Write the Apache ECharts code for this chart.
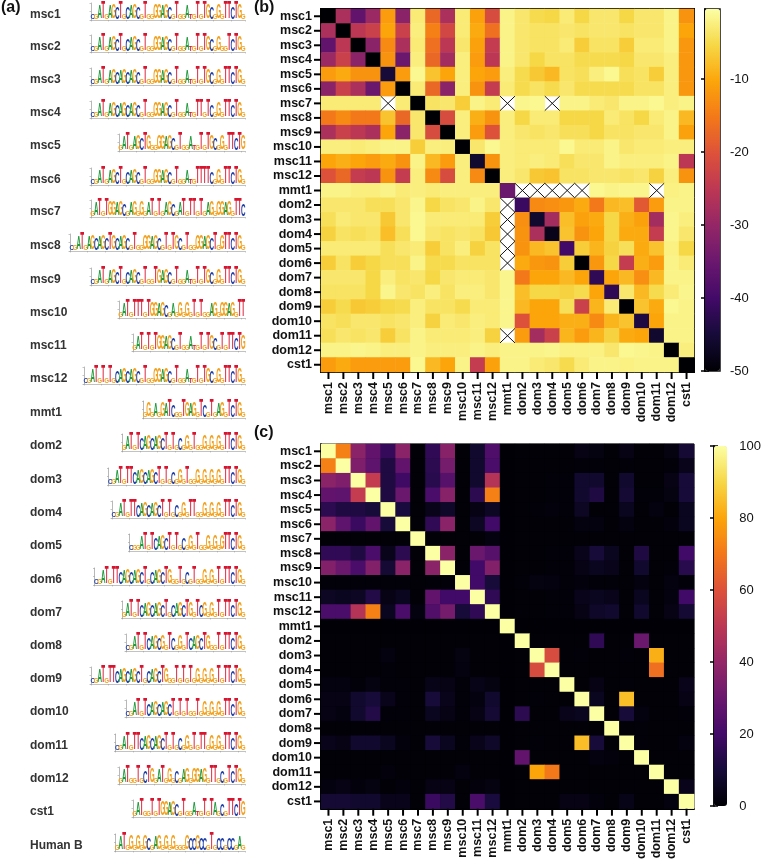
<!DOCTYPE html>
<html><head><meta charset="utf-8">
<style>html,body{margin:0;padding:0;background:#fff}#c{width:764px;height:862px}</style>
<script src="https://cdn.jsdelivr.net/npm/echarts@6/dist/echarts.min.js"></script>
</head><body><div id="c"></div>
<script>
const categories=['msc1','msc2','msc3','msc4','msc5','msc6','msc7','msc8','msc9','msc10','msc11','msc12','mmt1','dom2','dom3','dom4','dom5','dom6','dom7','dom8','dom9','dom10','dom11','dom12','cst1'];
const inferno=['#000004','#160b39','#420a68','#6a176e','#932667','#bc3754','#dd513a','#f37819','#fca50a','#f6d746','#fcffa4'];
const _=null;
const matrixB=[
[-50,-27,-36,-29,-11,-31,-2.5,-17,-27,-2.5,-10.5,-21,-1.5,-3,-4.5,-5,-2.5,-5,-3,-3,-5,-3,-3,-1.5,-12],
[-27,-50,-25,-23,-10,-23,-2,-14,-22,-2.5,-9.5,-16,-1.5,-3,-3.5,-3.5,-3,-3.5,-3,-3,-3.5,-3,-3,-1.5,-10],
[-36,-25,-50,-31,-13,-27,-2.5,-16,-25,-3,-10.5,-24,-1.5,-3,-3.5,-3.5,-2.5,-6,-3.5,-3.5,-6,-2.5,-2.5,-1.5,-11.5],
[-29,-23,-31,-50,-12,-35,-2,-17,-28,-2,-11,-25,-1.5,-3,-5,-3.5,-3.5,-4.5,-4.5,-4.5,-5,-3,-3,-2,-11.5],
[-11,-9.5,-12,-12,-45,-11,-1,-7,-10,-2,-10,-11,-2,-4.5,-6.5,-8,-3.5,-4,-2,-1,-4,-3.5,-6,-2,-11.5],
[-31,-23,-27,-35,-11,-50,-2.5,-17,-31,-2,-12,-24,-2.5,-4.5,-3.5,-4.5,-3,-4.5,-4.5,-4.5,-4.5,-3.5,-3.5,-2,-11.5],
[-2.5,-2.5,-2.5,-2.5,_,-2.5,-50,-3.5,-3,-6,-1.5,-2.5,_,-1.2,-1,_,-1.5,-1.5,-2.5,-3,-1.5,-1.5,-1,-2,-1.5],
[-15,-13,-15,-15,-7,-17,-3,-50,-21,-2,-9,-12,-2,-5,-2.5,-2.5,-5,-5,-5,-2.5,-3.5,-5,-2.5,-1.5,-8],
[-27,-23,-25,-27,-10,-31,-3,-21,-50,-2,-11,-20,-2,-3,-3.5,-3,-4,-4,-5,-3.5,-3.5,-3,-3,-1.5,-10.5],
[-2,-2,-2.5,-2,-1.5,-1.5,-6,-2,-2,-50,-3,-1,-2,-2.5,-2.5,-2.5,-1,-2.5,-2.5,-1.5,-3,-2.5,-2.5,-2,-2],
[-10,-9,-10,-11,-9.5,-12,-1.5,-8,-11,-2,-46,-12,-2,-2.5,-2,-2.5,-4,-3,-3,-1.5,-2,-2,-2,-1.5,-25],
[-20,-17,-24,-25,-12,-24,-2,-13,-21,-2,-13,-50,-2,-3,-6.5,-7,-3.5,-3.5,-3,-3,-3.5,-3,-5.5,-2,-12],
[-1.5,-1.5,-2,-2,-1.5,-2.5,-2,-2.5,-2,-2,-2,-2,-35,_,_,_,_,_,-1,-1.5,-1.2,-1.2,_,-1.8,-1.5],
[-3,-3,-3,-4,-4,-3,-1.2,-5,-3.5,-3,-1.5,-3,_,-41,-13,-12.5,-11.5,-9.5,-15,-8,-7.5,-19,-11,-1.5,-1.5],
[-4,-2.5,-3,-3,-6.5,-3,-1,-2.5,-2.5,-2.5,-2.5,-6,_,-12.5,-46,-28,-7.5,-10.5,-9.5,-5,-9,-10.5,-28,-1.2,-2],
[-5.5,-3.5,-4,-3.5,-7.5,-4,-1,-3,-3.5,-3,-3.5,-6.5,_,-12,-27,-48,-7,-12,-10,-5,-9.5,-9.5,-24,-1.2,-3],
[-2.5,-2.5,-2.5,-2.5,-4,-3,-2.5,-6,-3.5,-2,-5.5,-3.5,_,-12,-8,-7,-40,-6,-8.5,-5.5,-4,-9.5,-7,-1.8,-5],
[-6,-3.5,-6,-5,-4,-4,-1.5,-4.5,-4.5,-3.5,-3.5,-3.5,_,-9.5,-11.5,-12,-6,-50,-11.5,-5,-24,-9,-11,-1.5,-2.5],
[-3,-3,-3,-5,-2,-3.5,-3,-5,-3,-2.5,-2.5,-3,-1.2,-15,-10,-10,-8,-10,-42,-10,-8,-12.5,-8,-1.5,-1.5],
[-3.5,-3.5,-3.5,-5,-1.2,-3,-3.5,-2,-3.5,-2,-2,-3,-1.2,-7.5,-5,-5,-5.5,-4.5,-10,-42,-3,-8,-4.5,-2.5,-1.2],
[-6,-4.5,-6.5,-6,-5,-4.5,-2,-3.5,-3.5,-4.5,-2.5,-2.5,-1.2,-8,-10,-10,-4,-23,-8.5,-2.5,-50,-7,-9.5,-1,-1.5],
[-3.5,-4,-3,-3,-3.5,-3,-2,-5.5,-2.5,-3,-2,-2.5,-1.2,-20,-10,-10,-9,-9,-13,-8.5,-7,-44,-10,-1.5,-1.5],
[-4,-3,-3.5,-3,-6,-3.5,-1.5,-2.5,-2.5,-2.5,-2,-5.5,_,-11,-28,-23,-8.5,-11,-8.5,-5.5,-9.5,-10,-46,-1.5,-1.5],
[-1.5,-1.5,-1.2,-1.5,-2,-2,-1.5,-2,-2,-2,-1.5,-2,-1.5,-1.5,-1.5,-1.2,-1.8,-1.8,-1.8,-3,-1,-1.2,-1.5,-50,-2],
[-11,-9.5,-11,-11,-11,-11,-1,-8,-10,-1.5,-24,-10.5,-1.5,-1.5,-2.5,-3,-4.5,-2.5,-1.5,-1.5,-1.8,-1.5,-1.5,-1.5,-50]
];
const matrixC=[
[100,72,38,28,17,38,.5,16,37,.5,8,23,.3,.5,.5,.5,.5,3,2.5,.5,3,.5,.5,2.5,9],
[72,100,35,27,12,28,.5,15,33,.5,8,22,.3,.5,.5,.5,.5,1,1,.5,1,.5,.5,1,4],
[38,35,100,52,12,19,.5,14,25,.8,8,48,.3,.5,.5,1,1,8,8,.5,8,.5,.5,3,10],
[28,27,52,100,12,30,.5,22,37,.5,15,72,.3,.5,.5,1,1,8,12,.5,9,1,1,2.5,10],
[15,12,12,10,100,11,.5,4,7,.6,3,6,.3,.5,1,1.5,1,6,.5,.5,5,.5,2,.5,5],
[38,27,18,28,10,100,.5,16,38,.5,6,20,.3,.5,.5,.5,.5,2,2,.5,2,.5,.5,1.5,5],
[.8,.8,.8,.8,.8,.8,100,.8,.8,.8,.8,2,.3,.5,.5,.5,.5,.5,.5,.5,.5,.5,.5,.5,.8],
[16,16,12,22,4,15,.5,100,38,.5,30,25,.3,.5,.5,1,1,4,10,5,.5,12,.5,.5,20],
[36,30,22,36,9,38,.5,38,100,.5,20,36,.3,.5,.5,1,1,3,5,4,.5,8,.5,1,14],
[1,1,1,1,1,1,.5,1,1,100,20,10,.3,1,2.5,2,1,1.5,1,1,.5,2,.5,2,1],
[6,5,6,13,3,5,.5,28,20,20,100,16,.3,.5,.5,1,1,4,5,4,.5,5,.5,2,20],
[22,22,48,72,5,22,2,24,33,10,16,100,.3,.5,.5,1,1,3,7,8,.5,8,.5,3,9],
[.3,.3,.3,.3,.3,.3,.3,.3,.3,.3,.3,.3,100,.3,.3,.3,.3,.3,.3,.3,.3,.3,.3,.3,.3],
[.5,.5,.5,.5,.5,.5,.5,.5,.5,.5,.5,.5,.3,100,.5,.5,.5,.5,16,.5,.5,30,.5,.5,.5],
[.5,.5,.5,.5,2,.5,.5,.5,.5,2.5,.5,.5,.3,.5,100,58,.5,1,.5,.5,1,.5,82,.5,.5],
[.5,.5,.5,.5,1,.5,.5,.5,.5,2,.5,.5,.3,.5,58,100,.5,.5,.5,.5,.5,.5,68,.5,.5],
[2,2,1,2.5,1,1,.5,3.5,3,1,3.5,2.5,.3,.5,.5,.5,100,.5,3,.5,1,.5,.5,.5,4],
[3,3,8,10,4,1,.5,10,4,1,2,8,.3,.5,1,.5,.5,100,5,.5,85,.5,.5,.5,3],
[3,2,8,13,1,1,.5,5,3,1,3,9,.3,15,.5,.5,4,5,100,.5,10,2,.5,.5,1],
[.7,.7,.7,.7,.7,.7,.5,.7,.7,.7,.7,.7,.3,.5,.5,.5,.5,.5,.5,100,.5,1,.5,.5,.5],
[4,3,8,8,5,1.5,.7,10,5,1,4,7,.3,.5,1,.5,.5,85,10,.5,100,1,.5,.5,2],
[.5,.5,.5,.5,.5,.5,.5,.5,.5,.5,.5,.5,.3,28,.5,.5,.5,.5,2,1.5,.5,100,.5,.5,.5],
[.5,.5,.5,.5,1.5,.5,.5,.5,.5,2,.5,.5,.3,.5,80,70,.5,.5,.5,.5,.5,.5,100,.5,.5],
[2,3,1.5,2.5,.5,1.5,.5,3,3,.5,1.5,2.5,.3,.5,.5,.5,.5,.5,.5,.5,.5,.5,.5,100,4],
[9,9,8,8,4,4,.5,18,13,.5,22,11,.3,.5,.5,.5,3,3,1.5,.5,3.5,.5,.5,2,100]
];
const logoNames=['msc1','msc2','msc3','msc4','msc5','msc6','msc7','msc8','msc9','msc10','msc11','msc12','mmt1','dom2','dom3','dom4','dom5','dom6','dom7','dom8','dom9','dom10','dom11','dom12','cst1','Human B'];
const logoSequences=[
'cgATgAGCTgCAGCgTggGGAGCgTggAtgTgTGCgGgTTCTGg',
'cgATgAGCTgCAGCgTggGGAGCgTggAtgTgTGCgGggTCTGg',
'cgATgAGCAGCAGCgTggGGAGCgTggAtgTgTGCgGgTTCTGg',
'cgATgAGCAGCAGCgTggGGAGCgTggAtgTTgTCgGgTTCTGg',
'gATgAGCTGggGGAGCgTggAtgTgTGCgGgTTCTG',
'cgATgAGCTgCAGCgTggGGAGCgTggAtgTTTTCgGgTTCTGg',
'gATgTGGAGCgAGgGgATgTgAGCgATgTTgTgAGgGGAGgTTC',
'cgATgAGCAGCTGCAGCgTggGGAGCgTgTGCgTggGGAGCTgGTTCTGg',
'cgATgAGCTgCAGCgTggTGAGCgTggAtgTgTGCgGgTTCTGg',
'gATgTTTgTGGAGCgAgGgGgTgTggAGgGGAGgTT',
'gATgTgTGGAGCgTggAtgTgTGCgTgTTCTG',
'cgATgTgTgCAGCAGCgTggGGAGCgTggAtgTgTGCgGgTTCTGg',
'gGgAgGATCggTGAGgTCgTgAGgTCTGg',
'gATgTCAGCAGCTgTgCgGgTggGgGgGgTTCTGg',
'cgATgTTCAGCAGCTgTgCgGgTggGgGgGgGgTTCTGg',
'cgATgTTCAGCAGCTgTgCgGgTTggGgGgGgTTCTGg',
'cggATgTCAGCTgTgCgGgTggGgGgGTTCTGg',
'cgATgTTCAGCAGCTgCAGCTGggTgCgTggGgGgTgTTCTGg',
'gATgTCAGCAGCTgCAGCTGgTCGgGgTgTTCTGg',
'cgATgTCAGCGgTCgGgTCAGCTGggTgTTCTGg',
'cgATgTTCAGCAGCTgCAGCTGggTgTgTgGgGgGgTgTTCTGg',
'cgATgTCAGCAGCTgTgTggTgGgGgGgTTCTGg',
'cgATgTTCAGCAGCTgTgCgGgTgTTgGgGgTTCTGg',
'gATggTgCTGgATgGgCgAGgGGAGgTTgCgTCTGg',
'gATggTgTGGAGCgTggAtgTgTAgCgTTCTG',
'gATgGgGgGCgAGgGgGgggGCCGCCgTgCCgCCgAg'
];
const logoRowY=[16,48,81,114,147,181,213,247,281,314,347,380,414,447,481,514,547,581,614,647,680,713,747,780,813,847];
const letterHeights={T:1.95,G:1.7,A:1.5,C:1.4};
const smallHeight=.62;
const letterColors={T:'#d8152f',G:'#f2a11e',A:'#1d9a3a',C:'#1f3fa8'};
const FONT='"Liberation Sans",Arial,sans-serif';

const chart=echarts.init(document.getElementById('c'),null,{renderer:'canvas'});
const cells=m=>{const o=[];m.forEach((r,y)=>r.forEach((v,x)=>{if(v!==null)o.push([x,y,v]);}));return o;};
const missing=[];matrixB.forEach((r,y)=>r.forEach((v,x)=>{if(v===null)missing.push([x,y]);}));

const grids=[
 {left:321,top:9,width:373,height:363,show:true,borderColor:'#000',borderWidth:2,backgroundColor:'#fff'},
 {left:321,top:444,width:373,height:365,show:true,borderColor:'#000',borderWidth:1,backgroundColor:'#000004'},
 {left:705,top:9,width:15,height:362,show:true,borderColor:'#111',borderWidth:1.5,backgroundColor:'transparent'},
 {left:714,top:446,width:13,height:360,show:false}
];
const hx=i=>({type:'category',gridIndex:i,data:categories,position:'bottom',
  axisLine:{onZero:false,lineStyle:{color:'#000',width:2}},
  axisTick:{alignWithLabel:false,show:false},splitLine:{show:false},splitArea:{show:false},
  axisLabel:{interval:0,rotate:90,fontFamily:FONT,fontWeight:'bold',fontSize:12.5,color:'#111',margin:10}});
const hy=i=>({type:'category',gridIndex:i,data:categories,inverse:true,
  axisLine:{onZero:false,lineStyle:{color:'#000',width:2}},
  axisTick:{show:false},splitLine:{show:false},splitArea:{show:false},
  axisLabel:{interval:0,fontFamily:FONT,fontWeight:'bold',fontSize:12.5,color:'#111',margin:9}});
const cbTicks=(i,min,max,vals,pos,showLabel,margin)=>({type:'value',gridIndex:i,min,max,position:pos,
  axisLine:{show:true,lineStyle:{color:'#000',width:1.5}},
  axisTick:{show:true,length:4,lineStyle:{color:'#000',width:1.5},customValues:vals},
  splitLine:{show:false},
  axisLabel:{show:showLabel,customValues:vals,fontFamily:FONT,fontSize:13,color:'#111',margin}});
const hiddenX=i=>({type:'value',gridIndex:i,min:0,max:1,show:false});

const xAxes=[hx(0),hx(1),hiddenX(2),hiddenX(3)];
const yAxes=[hy(0),hy(1),
  cbTicks(2,-50,-0.4,[-50,-40,-30,-20,-10],'right',true,10),
  cbTicks(2,-50,-0.4,[-50,-40,-30,-20,-10],'left',false,0),
  cbTicks(3,0,100,[0,20,40,60,80,100],'right',true,13),
  cbTicks(3,0,100,[0,20,40,60,80,100],'left',false,0)];

const cellTicks=(xi,yi)=>({type:'custom',xAxisIndex:xi,yAxisIndex:yi,silent:true,clip:false,z:5,
  data:categories.map((c,i)=>[i]),
  renderItem:(p,api)=>{const i=api.value(0);
    const a=api.coord([i,categories.length-1]),b=api.coord([0,i]);
    const left=p.coordSys.x,bottom=p.coordSys.y+p.coordSys.height;
    return {type:'group',children:[
      {type:'line',shape:{x1:left-7,y1:b[1],x2:left,y2:b[1]},style:{stroke:'#000',lineWidth:2}},
      {type:'line',shape:{x1:a[0],y1:bottom,x2:a[0],y2:bottom+7},style:{stroke:'#000',lineWidth:2}}]};
  }});

const series=[
 {type:'heatmap',xAxisIndex:0,yAxisIndex:0,data:cells(matrixB),silent:true,progressive:0,itemStyle:{borderWidth:0}},
 {type:'custom',xAxisIndex:0,yAxisIndex:0,data:missing,silent:true,z:4,
  renderItem:(p,api)=>{const c=api.coord([api.value(0),api.value(1)]),s=api.size([1,1]);
    const x=c[0]-s[0]/2,y=c[1]-s[1]/2;
    return {type:'group',children:[
      {type:'line',shape:{x1:x,y1:y,x2:x+s[0],y2:y+s[1]},style:{stroke:'#111',lineWidth:1}},
      {type:'line',shape:{x1:x+s[0],y1:y,x2:x,y2:y+s[1]},style:{stroke:'#111',lineWidth:1}}]};
  }},
 {type:'heatmap',xAxisIndex:1,yAxisIndex:1,data:cells(matrixC),silent:true,progressive:0,itemStyle:{borderWidth:0}},
 cellTicks(0,0),cellTicks(1,1)
];

const baseGrid=grids.length, baseX=xAxes.length, baseY=yAxes.length;
const LETTER=3.5;
logoSequences.forEach((seq,k)=>{
  const w=seq.length*LETTER,left=245-w;
  grids.push({left,top:logoRowY[k]-13,width:w,height:17,show:false});
  xAxes.push({type:'value',gridIndex:baseGrid+k,min:0,max:seq.length,interval:5,
    axisLine:{show:true,onZero:false,lineStyle:{color:'#999',width:.6}},
    axisTick:{show:true,length:1.5,lineStyle:{color:'#999',width:.5}},axisLabel:{show:false},splitLine:{show:false}});
  yAxes.push({type:'value',gridIndex:baseGrid+k,min:0,max:2,interval:1,offset:1,
    axisLine:{show:true,lineStyle:{color:'#888',width:.6}},
    axisTick:{show:true,length:1.5,lineStyle:{color:'#888',width:.5}},axisLabel:{show:false},splitLine:{show:false}});
  series.push({type:'custom',xAxisIndex:baseX+k,yAxisIndex:baseY+k,silent:true,clip:false,
    encode:{x:0,y:1},
    data:seq.split('').map((ch,i)=>{const up=ch.toUpperCase();const big=ch===up;
      return [i+.5,big?letterHeights[up]:smallHeight,up];}),
    renderItem:(p,api)=>{
      const pos=api.coord([api.value(0),0]),top=api.coord([api.value(0),api.value(1)]);
      const h=pos[1]-top[1];const ch=seq[p.dataIndex].toUpperCase();
      return {type:'text',x:pos[0],y:pos[1]-h/2,scaleX:LETTER/5.6,scaleY:h/7.2,
        style:{text:ch,fontFamily:FONT,fontWeight:'bold',fontSize:10,fill:letterColors[ch],align:'center',verticalAlign:'middle'}};
    }});
});

const graphic=[
 {type:'text',left:1,top:0,style:{text:'(a)',font:'bold 16px '+FONT,fill:'#111'}},
 {type:'text',left:254,top:0,style:{text:'(b)',font:'bold 16px '+FONT,fill:'#111'}},
 {type:'text',left:254,top:425,style:{text:'(c)',font:'bold 16px '+FONT,fill:'#111'}}
];
logoNames.forEach((n,k)=>graphic.push({type:'text',left:30,top:logoRowY[k]-7,
  style:{text:n,font:'bold 12px '+FONT,fill:'#333'}}));

chart.setOption({animation:false,backgroundColor:'#fff',grid:grids,xAxis:xAxes,yAxis:yAxes,series,graphic,
 visualMap:[
  {type:'continuous',seriesIndex:0,min:-50,max:0,show:true,inRange:{color:inferno},left:705,top:9,itemWidth:15,itemHeight:362,padding:0,text:['',''],textGap:0,calculable:false,hoverLink:false,z:1},
  {type:'continuous',seriesIndex:2,min:0,max:100,show:true,inRange:{color:inferno},left:714,top:446,itemWidth:13,itemHeight:360,padding:0,text:['',''],textGap:0,calculable:false,hoverLink:false,z:1}
 ]});
</script></body></html>
